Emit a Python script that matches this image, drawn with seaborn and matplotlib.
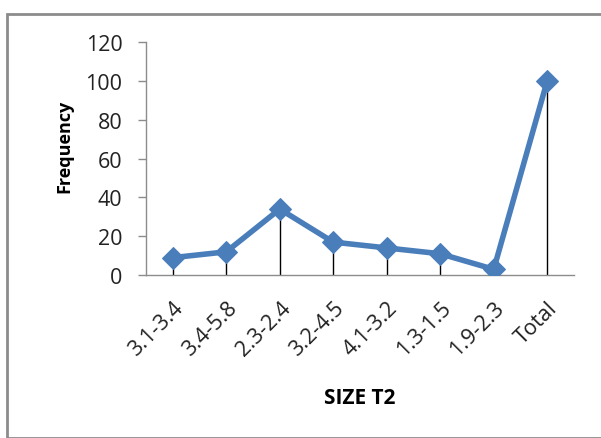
import matplotlib
matplotlib.use("Agg")
import matplotlib.pyplot as plt
import seaborn as sns
import pandas as pd
from matplotlib.patches import Rectangle

categories = ["3.1-3.4", "3.4-5.8", "2.3-2.4", "3.2-4.5", "4.1-3.2", "1.3-1.5", "1.9-2.3", "Total"]
frequency = [9, 12, 34, 17, 14, 11, 3, 100]
y_ticks = [0, 20, 40, 60, 80, 100, 120]

sns.set_theme(style="white")
plt.rcParams['font.family'] = ['Open Sans', 'DejaVu Sans']

df = pd.DataFrame({"cat": categories, "freq": frequency, "x": range(len(categories))})

fig = plt.figure(figsize=(6.01, 4.39), dpi=100)
ax = fig.add_axes([0.243, 0.371, 0.712, 0.531])

# outer chart border
fig.patches.append(Rectangle((7/601, 0), 1.2, 1 - 15/439, transform=fig.transFigure,
                             fill=False, edgecolor="#8c8c8c", linewidth=2.0, clip_on=False))

# drop lines
ax.vlines(df["x"], 0, df["freq"], colors="black", linewidth=1.0, zorder=1)

sns.lineplot(data=df, x="x", y="freq", ax=ax, color="#4A7EBB", linewidth=4,
             marker="D", markersize=11, markeredgecolor="#4A7EBB", zorder=3)

ax.set_xlim(-0.5, 7.5)
ax.set_ylim(0, 120)
ax.set_yticks(y_ticks)
ax.set_xticks(range(len(categories)))
ax.set_xticklabels(categories, rotation=45, ha="right", rotation_mode="anchor", fontsize=15.5, color="#222222")
ax.tick_params(axis="y", labelsize=15.5, labelcolor="#222222", length=6, width=1, color="#8c8c8c", left=True, pad=11)
ax.tick_params(axis="x", length=0, pad=16)

for s in ["top", "right"]:
    ax.spines[s].set_visible(False)
ax.spines["left"].set_color("#8c8c8c")
ax.spines["bottom"].set_color("#8c8c8c")
ax.spines["left"].set_linewidth(1)
ax.spines["bottom"].set_linewidth(1)

ax.set_ylabel("Frequency", fontsize=13, fontweight="bold", color="black")
ax.yaxis.set_label_coords(-0.17, 0.558)
ax.set_xlabel("SIZE T2", fontsize=15, fontweight="bold", color="black")
ax.xaxis.set_label_coords(0.5, -0.48)

fig.savefig("out.png", dpi=100)
